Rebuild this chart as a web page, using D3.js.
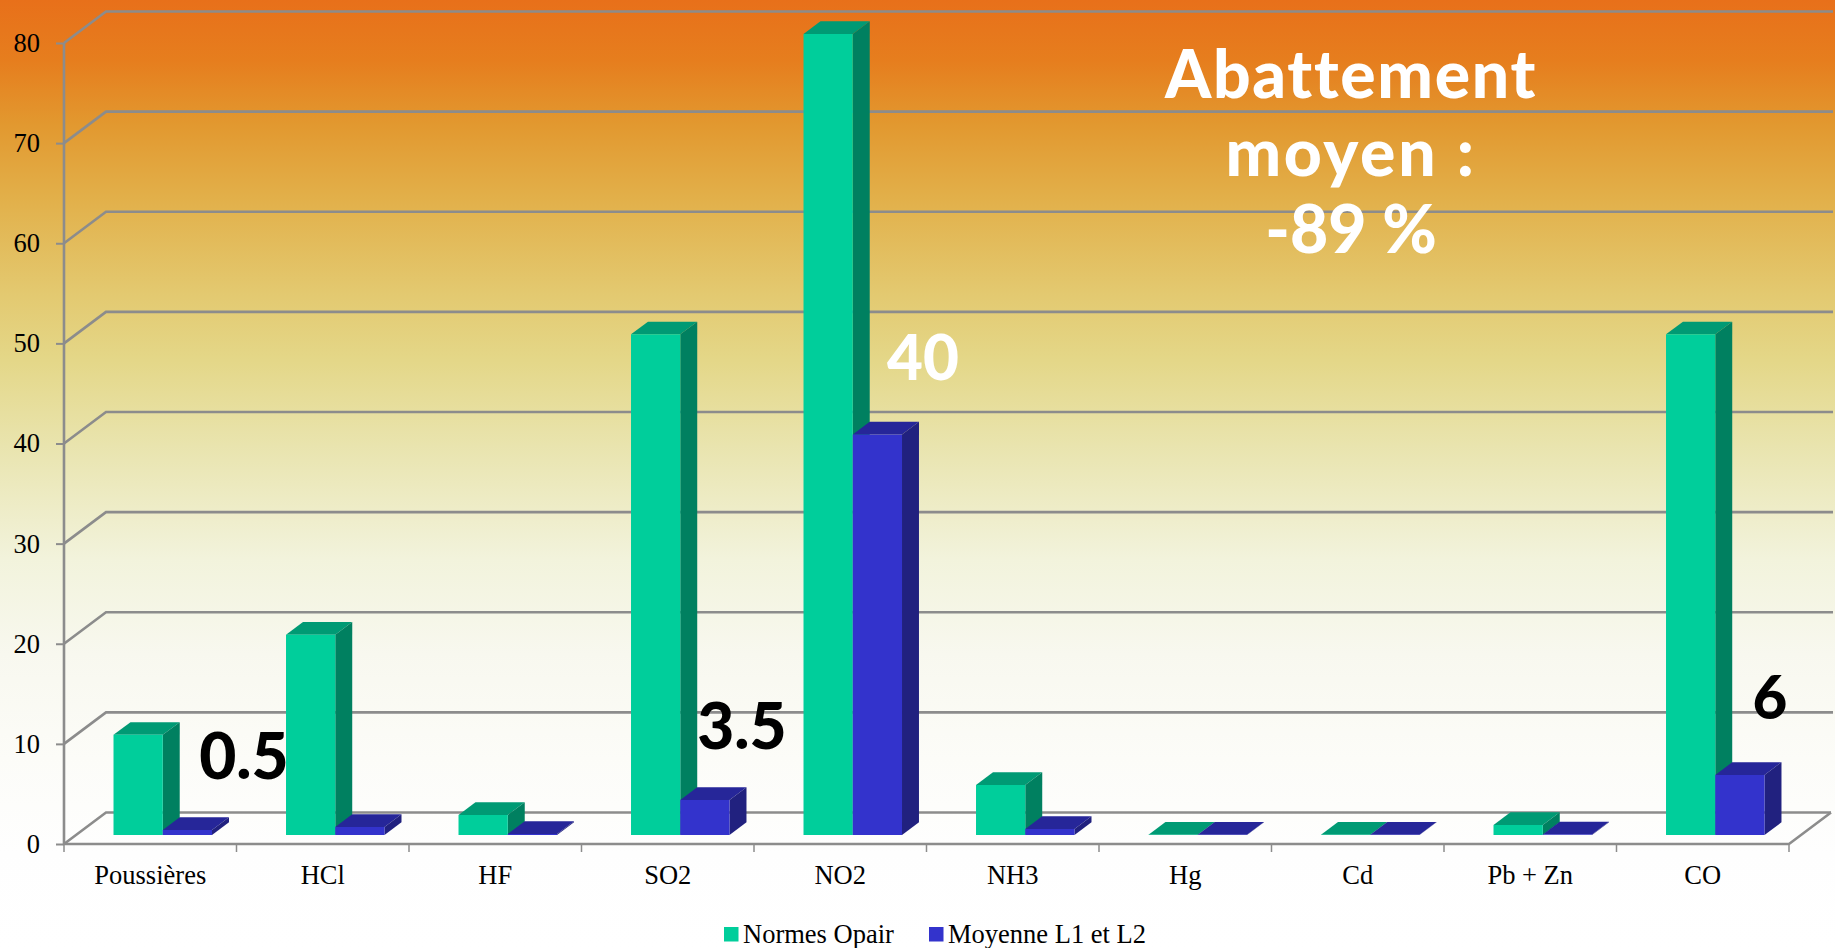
<!DOCTYPE html>
<html>
<head>
<meta charset="utf-8">
<style>
html,body{margin:0;padding:0;background:#fff;overflow:hidden}
svg{display:block}
.axis text{font-family:"Liberation Serif",serif;font-size:26.5px;fill:#000}
.legend text{font-family:"Liberation Serif",serif;font-size:26.5px;fill:#000}
.call{font-family:Lato,sans-serif;font-weight:900}
</style>
<script src="https://cdn.jsdelivr.net/npm/d3@7/dist/d3.min.js"></script>
</head>
<body>
<svg id="chart" width="1835" height="948"></svg>
<script>
// Emission limits against measured averages per pollutant
const categories = ["Poussières","HCl","HF","SO2","NO2","NH3","Hg","Cd","Pb + Zn","CO"];
const normes = [10,20,2,50,80,5,0.02,0.02,1,50];
const moyenne = [0.5,0.8,0.1,3.5,40,0.6,0.02,0.02,0.05,6];
const seriesNames = ["Normes Opair","Moyenne L1 et L2"];
const yTicks = [0,10,20,30,40,50,60,70,80];
const callouts = [["0.5",0],["3.5",3],["40",4],["6",9]];
const headline = ["Abattement","moyen :","-89 %"];

const W = 1835, H = 948;
const left = 64, right = 1789, base = 844, top80 = 43;
const depthX = 42, depthY = 31.5;          // oblique offset of the back wall
const barZ0 = 0.286, barZ1 = 0.69;          // bar depth inside the floor

const svg = d3.select("#chart");
const x = d3.scaleBand().domain(categories).range([left,right]);
const y = d3.scaleLinear().domain([0,80]).range([base,top80]);
const inner = d3.scaleBand().domain(seriesNames).range([37.5,136]);
const proj = (px,py,z) => [px + z*depthX, py - z*depthY];

// Wall background
const bgStops = [[0,"#e8701a"],[.065,"#e67e1e"],[.13,"#e2982f"],[.21,"#e2b04a"],[.31,"#e3c970"],[.38,"#e4d788"],[.47,"#e9e4ae"],[.59,"#f2f3dc"],[.69,"#f8f8ef"],[.8,"#fcfcf8"],[.9,"#fefefe"],[1,"#ffffff"]];
const grad = svg.append("defs").append("linearGradient").attr("id","wall").attr("x1",0).attr("x2",0).attr("y1",0).attr("y2",1);
grad.selectAll("stop").data(bgStops).join("stop").attr("offset",d=>d[0]).attr("stop-color",d=>d[1]);
svg.append("rect").attr("width",W).attr("height",H).attr("fill","url(#wall)");

// Gridlines: left wall diagonal plus back wall run
const gridColor = "#8c8c8c";
const line = d3.line();
svg.append("g").selectAll("path").data(yTicks).join("path")
  .attr("d",v=>line([[left,y(v)],proj(left,y(v),1),[v===0?right+depthX:W-2,y(v)-depthY]]))
  .attr("fill","none").attr("stroke",gridColor).attr("stroke-width",2.6);
// Floor front edge and right side
svg.append("path").attr("d",line([[right+depthX,base-depthY],[right,base],[left,base],[left,y(80)]]))
  .attr("fill","none").attr("stroke",gridColor).attr("stroke-width",2.6);

// Axes
const yAxis = svg.append("g").attr("class","axis").attr("transform",`translate(${left},0)`)
  .call(d3.axisLeft(y).tickValues(yTicks).tickSize(8).tickPadding(16));
yAxis.select(".domain").remove();
yAxis.selectAll("line").attr("stroke",gridColor).attr("stroke-width",2);

const xAxis = svg.append("g").attr("class","axis").attr("transform",`translate(0,${base})`)
  .call(d3.axisBottom(x).tickSize(0).tickPadding(21));
xAxis.select(".domain").remove();
svg.append("g").selectAll("line").data(d3.range(categories.length+1)).join("line")
  .attr("x1",i=>left+i*x.step()).attr("x2",i=>left+i*x.step())
  .attr("y1",base).attr("y2",base+8).attr("stroke",gridColor).attr("stroke-width",1.5);

// One 3D bar: front, top and side faces
const palette = {
  "Normes Opair":{front:"#00ce9b",top:"#009a74",side:"#008060"},
  "Moyenne L1 et L2":{front:"#3333cc",top:"#262699",side:"#21217f"}
};
function drawBar(g,cat,name,v){
  const x0 = x(cat)+inner(name), x1 = x0+inner.bandwidth();
  const b = base, t = y(v);
  const c = palette[name];
  const poly = (pts,fill)=>g.append("path").attr("d",line(pts)+"Z").attr("fill",fill);
  poly([proj(x0,t,barZ0),proj(x1,t,barZ0),proj(x1,t,barZ1),proj(x0,t,barZ1)],c.top);
  poly([proj(x1,b,barZ0),proj(x1,t,barZ0),proj(x1,t,barZ1),proj(x1,b,barZ1)],c.side);
  poly([proj(x0,b,barZ0),proj(x1,b,barZ0),proj(x1,t,barZ0),proj(x0,t,barZ0)],c.front);
}
const bars = svg.append("g");
categories.forEach((c,i)=>{
  drawBar(bars,c,seriesNames[0],normes[i]);
  drawBar(bars,c,seriesNames[1],moyenne[i]);
});

// Legend
const legendItems = [[724,seriesNames[0]],[929,seriesNames[1]]];
const legend = svg.append("g").attr("class","legend");
legendItems.forEach(([lx,name])=>{
  legend.append("rect").attr("x",lx).attr("y",927).attr("width",14.5).attr("height",14.5).attr("fill",palette[name].front);
  legend.append("text").attr("x",lx+19).attr("y",943).text(name);
});

// Large value callouts
const calloutPos = {"0.5":[244,779,"#000",64],"3.5":[742,749,"#000",64],"40":[923,380,"#fff",62],"6":[1770,719,"#000",60]};
svg.append("g").selectAll("text").data(callouts).join("text")
  .attr("class","call").attr("text-anchor","middle").attr("font-size",d=>calloutPos[d[0]][3])
  .attr("x",d=>calloutPos[d[0]][0]).attr("y",d=>calloutPos[d[0]][1]).attr("fill",d=>calloutPos[d[0]][2])
  .text(d=>d[0]);

// Headline
const headlineSpacing = [1.7,2.7,0];
svg.append("g").selectAll("text").data(headline).join("text")
  .attr("class","call").attr("text-anchor","middle").attr("font-size",66).attr("fill","#fff")
  .attr("letter-spacing",(d,i)=>headlineSpacing[i])
  .attr("x",1351).attr("y",(d,i)=>98+i*77.5).text(d=>d);
</script>
</body>
</html>
